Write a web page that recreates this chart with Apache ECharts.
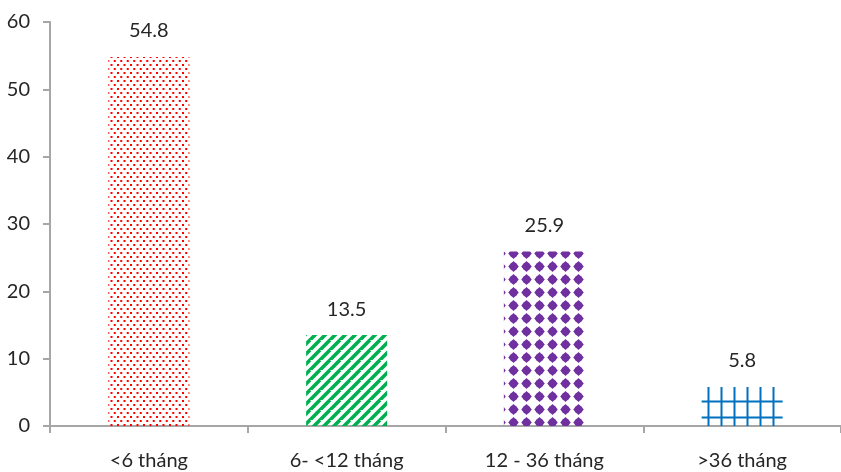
<!DOCTYPE html>
<html>
<head>
<meta charset="utf-8">
<script src="https://cdn.jsdelivr.net/npm/echarts@6/dist/echarts.min.js"></script>
<style>html,body{margin:0;padding:0;background:#fff;}#c{width:841px;height:472px;}</style>
</head>
<body>
<div id="c"></div>
<script>
const categories = ['<6 tháng', '6- <12 tháng', '12 - 36 tháng', '>36 tháng'];
const values = [54.8, 13.5, 25.9, 5.8];
const yTicks = [0, 10, 20, 30, 40, 50, 60];

function mk(w, h, draw) {
  const c = document.createElement('canvas');
  c.width = w; c.height = h;
  const ctx = c.getContext('2d');
  draw(ctx);
  return { image: c, repeat: 'repeat' };
}
const dots = mk(13, 8, ctx => {
  ctx.fillStyle = '#FF0000';
  ctx.fillRect(0, 0, 2, 2);
  ctx.fillRect(6.5, 0, 2, 2);
  ctx.fillRect(3.25, 4, 2, 2);
  ctx.fillRect(9.75, 4, 2, 2);
});
const stripes = mk(10, 10, ctx => {
  ctx.strokeStyle = '#00B050';
  ctx.lineWidth = 3.6;
  ctx.beginPath();
  ctx.moveTo(-10, 10); ctx.lineTo(0, 0);
  ctx.moveTo(0, 10); ctx.lineTo(10, 0);
  ctx.moveTo(0, 20); ctx.lineTo(20, 0);
  ctx.stroke();
});
const diamonds = mk(13, 13, ctx => {
  ctx.fillStyle = '#7030A0';
  ctx.beginPath();
  ctx.moveTo(6.5, 1.0); ctx.lineTo(11.8, 6.5); ctx.lineTo(6.5, 12.0); ctx.lineTo(1.2, 6.5);
  ctx.closePath();
  ctx.fill();
  ctx.beginPath();
  ctx.arc(6.5, 6.5, 4.0, 0, Math.PI * 2);
  ctx.fill();
});
const gridPat = mk(13, 16, ctx => {
  ctx.fillStyle = '#0070C0';
  ctx.fillRect(5.5, 0, 2, 16);
  ctx.fillRect(0, 0.5, 13, 2);
});
const fills = [dots, stripes, diamonds, gridPat];

const chart = echarts.init(document.getElementById('c'), null, { renderer: 'canvas' });
const font = 'Lato';
chart.setOption({
  animation: false,
  backgroundColor: '#ffffff',
  grid: { left: 50, right: -8, top: 22, bottom: 46, containLabel: false },
  xAxis: {
    type: 'category',
    data: categories,
    boundaryGap: true,
    axisLine: { lineStyle: { color: '#A6A6A6', width: 2 } },
    axisTick: { show: true, length: 7, lineStyle: { color: '#A6A6A6', width: 2 } },
    axisLabel: { color: '#262626', fontFamily: font, fontSize: 20, margin: 25 }
  },
  yAxis: {
    type: 'value',
    min: 0, max: 60, interval: 10,
    axisLine: { show: true, lineStyle: { color: '#A6A6A6', width: 2 } },
    axisTick: { show: true, length: 7, lineStyle: { color: '#A6A6A6', width: 2 } },
    splitLine: { show: false },
    axisLabel: {
      color: '#262626', fontFamily: font, fontSize: 20, margin: 20,
      formatter: v => yTicks.includes(v) ? String(v) : ''
    }
  },
  series: [{
    type: 'bar',
    barWidth: 81,
    data: values.map((v, i) => ({ value: v, itemStyle: { color: fills[i] } })),
    label: {
      show: true, position: 'top', distance: 16,
      color: '#262626', fontFamily: font, fontSize: 20,
      formatter: p => p.value.toFixed(1)
    }
  }]
});
</script>
</body>
</html>
